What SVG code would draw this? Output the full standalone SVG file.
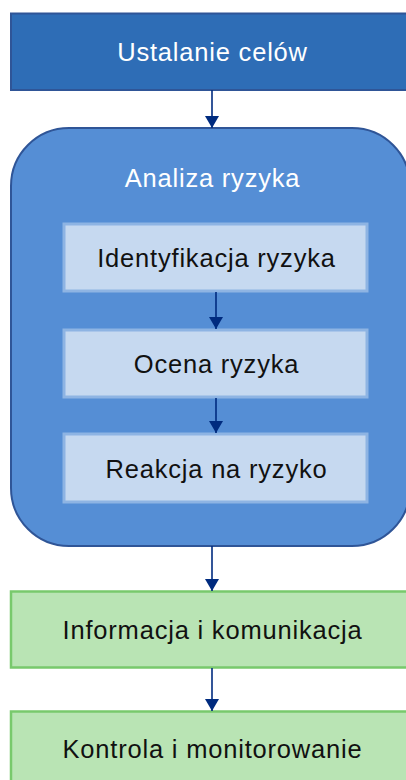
<svg xmlns="http://www.w3.org/2000/svg" width="406" height="780" viewBox="0 0 406 780">
<style>
text{font-family:"Liberation Sans",Arial,sans-serif;font-size:25.5px;letter-spacing:0.8px;text-anchor:middle}
.w{fill:#ffffff}
.b{fill:#111111}
.top{fill:#2E6DB6;stroke:#2F5597;stroke-width:2}
.big{fill:#558ED5;stroke:#2F5597;stroke-width:2}
.inner{fill:#C6D9F0;stroke:#8EB4E3;stroke-width:3}
.green{fill:#B9E4B4;stroke:#78C96C;stroke-width:2.5}
.conn{stroke:#002B7F;stroke-width:1.6;fill:none;marker-end:url(#ah)}
</style>
<defs>
<marker id="ah" viewBox="0 0 12 14" refX="12" refY="7" markerWidth="12" markerHeight="14" markerUnits="userSpaceOnUse" orient="auto">
<path d="M0,0 L12,7 L0,14 Z" fill="#002B7F"/>
</marker>
</defs>
<rect width="406" height="780" fill="#ffffff"/>
<g id="n1"><rect class="top" x="11" y="13.5" width="410" height="76.5"/><text class="w" x="212.5" y="61">Ustalanie celów</text></g>
<g id="n2"><rect class="big" x="11" y="128" width="399" height="418" rx="58" ry="58"/><text class="w" x="212.5" y="187">Analiza ryzyka</text></g>
<g id="n3"><rect class="inner" x="64" y="224" width="303" height="67"/><text class="b" x="216.5" y="267">Identyfikacja ryzyka</text></g>
<g id="n4"><rect class="inner" x="64" y="330" width="303" height="67"/><text class="b" x="216.5" y="373">Ocena ryzyka</text></g>
<g id="n5"><rect class="inner" x="64" y="434" width="303" height="68"/><text class="b" x="216.5" y="478">Reakcja na ryzyko</text></g>
<g id="n6"><rect class="green" x="11" y="591.5" width="410" height="76"/><text class="b" x="212.5" y="639">Informacja i komunikacja</text></g>
<g id="n7"><rect class="green" x="11" y="711.5" width="410" height="76"/><text class="b" x="212.5" y="758">Kontrola i monitorowanie</text></g>
<g id="connectors">
<line class="conn" x1="212" y1="90" x2="212" y2="128"/>
<line class="conn" x1="216" y1="292" x2="216" y2="329"/>
<line class="conn" x1="216" y1="398" x2="216" y2="433"/>
<line class="conn" x1="212" y1="546" x2="212" y2="591"/>
<line class="conn" x1="212" y1="668" x2="212" y2="711"/>
</g>
</svg>
